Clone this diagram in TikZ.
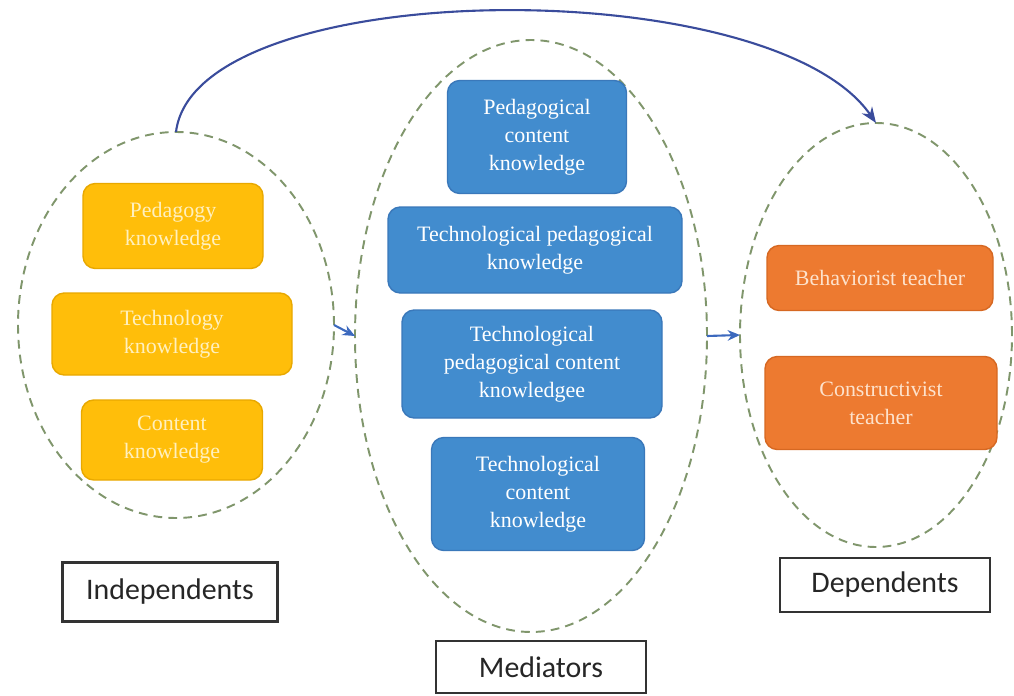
\documentclass[tikz,border=0pt]{standalone}
\usepackage{fontspec}
\setmainfont{Liberation Serif}
\newfontfamily\labelfont{Carlito}
\usetikzlibrary{shapes.geometric, arrows.meta}
\definecolor{dashgreen}{RGB}{128,150,108}
\definecolor{goldfill}{RGB}{255,190,10}
\definecolor{goldline}{RGB}{232,168,0}
\definecolor{goldtext}{RGB}{255,240,190}
\definecolor{bluefill}{RGB}{66,140,206}
\definecolor{blueline}{RGB}{58,120,186}
\definecolor{orangefill}{RGB}{237,122,48}
\definecolor{orangeline}{RGB}{214,104,34}
\definecolor{orangetext}{RGB}{253,226,204}
\definecolor{arcblue}{RGB}{58,76,156}
\definecolor{arrowblue}{RGB}{60,105,190}

\begin{document}
\begin{tikzpicture}[scale = 1.0,
    group/.style = {ellipse, draw=dashgreen, dash pattern=on 5pt off 3.5pt, line width=1.1pt, outer sep=0pt},
    kbox/.style = {rounded corners=7pt, align=center, line width=0.8pt, inner sep=2pt,
                   font=\fontsize{12.5}{16}\selectfont},
    yellowbox/.style = {kbox, fill=goldfill, draw=goldline, text=goldtext},
    bluebox/.style = {kbox, fill=bluefill, draw=blueline, text=white},
    orangebox/.style = {kbox, fill=orangefill, draw=orangeline, text=orangetext},
    grouplabel/.style = {draw=black!80, line width=1.2pt, font=\labelfont\fontsize{17}{20}\selectfont, text=black!85}]
    \useasboundingbox (0,0) rectangle (20.28,13.90);

    \node[group, minimum width=6.32cm, minimum height=7.72cm] (indep) at (3.52,7.40) {};
    \node[group, minimum width=7.04cm, minimum height=11.84cm] (medi) at (10.62,7.18) {};
    \node[group, minimum width=5.44cm, minimum height=8.48cm] (dep) at (17.52,7.20) {};

    \node[yellowbox, minimum width=3.60cm, minimum height=1.70cm] (pk) at (3.46,9.38) {Pedagogy\\knowledge};
    \node[yellowbox, minimum width=4.80cm, minimum height=1.64cm] (tk) at (3.44,7.22) {Technology\\knowledge};
    \node[yellowbox, minimum width=3.62cm, minimum height=1.60cm] (ck) at (3.44,5.10) {Content\\knowledge};

    \node[bluebox, minimum width=3.58cm, minimum height=2.26cm] (pck) at (10.74,11.16) {Pedagogical\\content\\knowledge};
    \node[bluebox, minimum width=5.88cm, minimum height=1.72cm] (tpk) at (10.70,8.90) {Technological pedagogical\\knowledge};
    \node[bluebox, minimum width=5.20cm, minimum height=2.16cm] (tpck) at (10.64,6.62) {Technological\\pedagogical content\\knowledgee};
    \node[bluebox, minimum width=4.26cm, minimum height=2.26cm] (tck) at (10.76,4.02) {Technological\\content\\knowledge};

    \node[orangebox, minimum width=4.52cm, minimum height=1.30cm] (bt) at (17.60,8.34) {Behaviorist teacher};
    \node[orangebox, minimum width=4.64cm, minimum height=1.86cm] (ct) at (17.62,5.84) {Constructivist\\teacher};

    \node[grouplabel, minimum width=4.30cm, minimum height=1.18cm] (indeplabel) at (3.40,2.06) {Independents};
    \node[grouplabel, minimum width=4.20cm, minimum height=1.04cm] (medilabel) at (10.82,0.56) {Mediators};
    \node[grouplabel, minimum width=4.20cm, minimum height=1.08cm] (deplabel) at (17.70,2.20) {Dependents};

    \draw[arrowblue, line width=1.2pt, -{Stealth[length=7pt, width=6pt]}] (indep.east) -- (medi.west);
    \draw[arrowblue, line width=1.2pt, -{Stealth[length=7pt, width=6pt]}] (medi.east) -- (dep.west);
    \draw[arcblue, line width=1.2pt, -{Stealth[length=9pt, width=7pt]}]
        (indep.north) .. controls +(0.38,3.14) and +(-2.12,3.06) .. (dep.north);
\end{tikzpicture}
\end{document}
